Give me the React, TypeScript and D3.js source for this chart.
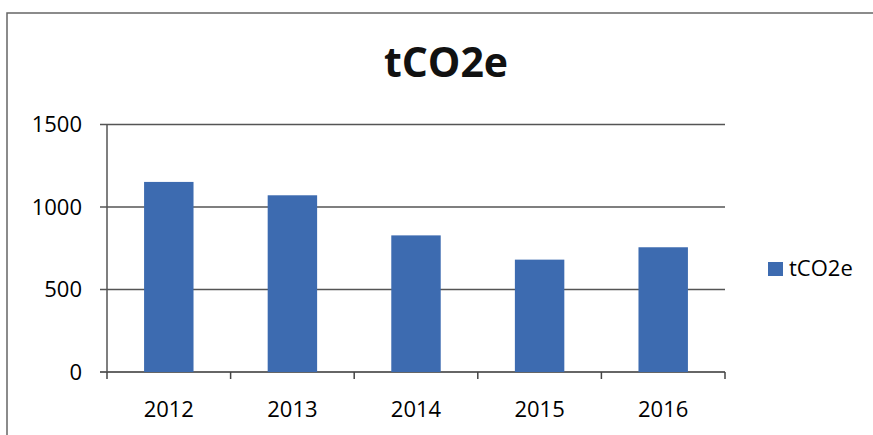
import React from "react";
import * as d3 from "d3";

const categories = ["2012", "2013", "2014", "2015", "2016"];
const values = [1152, 1071, 828, 681, 756];
const yTicks = [0, 500, 1000, 1500];
const seriesName = "tCO2e";
const title = "tCO2e";

const W = 873;
const H = 435;
const FONT = "'Open Sans', 'Noto Sans', sans-serif";
const BAR = "#3d6bb0";

export default function App() {
  const left = 107, right = 725, top = 124.5, bottom = 372;
  const x = d3.scaleBand<string>().domain(categories).range([left, right]).padding(0);
  const y = d3.scaleLinear().domain([0, 1500]).range([bottom, top]);
  const bw = x.bandwidth() * 0.4;
  const bounds = [...categories.map((c) => x(c)!), right];

  return (
    <div style={{ position: "absolute", left: 0, top: 0 }}>
      <svg width={W} height={H} style={{ display: "block", background: "#fff" }}>
        <path d={`M7,${H + 5}V13H${W + 5}`} fill="none" stroke="#666" strokeWidth={1.5} />
        <text x={446} y={77} textAnchor="middle" fontFamily={FONT} fontWeight={700} fontSize={41} fill="#111">
          {title}
        </text>
        {yTicks.map((t) => (
          <g key={t}>
            <line x1={left - 7} x2={right} y1={y(t)} y2={y(t)} stroke={t === 0 ? "#333" : "#555"} strokeWidth={1.5} />
            <text x={82} y={y(t)} dy="0.36em" textAnchor="end" fontFamily={FONT} fontSize={22} fill="#000">
              {t}
            </text>
          </g>
        ))}
        <line x1={left} x2={left} y1={top} y2={bottom} stroke="#555" strokeWidth={1.5} />
        {bounds.map((b, i) => (
          <line key={i} x1={b} x2={b} y1={bottom} y2={bottom + 7} stroke="#444" strokeWidth={1.5} />
        ))}
        {categories.map((c, i) => (
          <rect
            key={c}
            x={x(c)! + (x.bandwidth() - bw) / 2}
            y={y(values[i])}
            width={bw}
            height={y(0) - y(values[i])}
            fill={BAR}
          />
        ))}
        {categories.map((c) => (
          <text key={c} x={x(c)! + x.bandwidth() / 2} y={417} textAnchor="middle" fontFamily={FONT} fontSize={22} fill="#000">
            {c}
          </text>
        ))}
        <rect x={768} y={262} width={15} height={14} fill={BAR} />
        <text x={789} y={276} fontFamily={FONT} fontSize={22} fill="#000">
          {seriesName}
        </text>
      </svg>
    </div>
  );
}
